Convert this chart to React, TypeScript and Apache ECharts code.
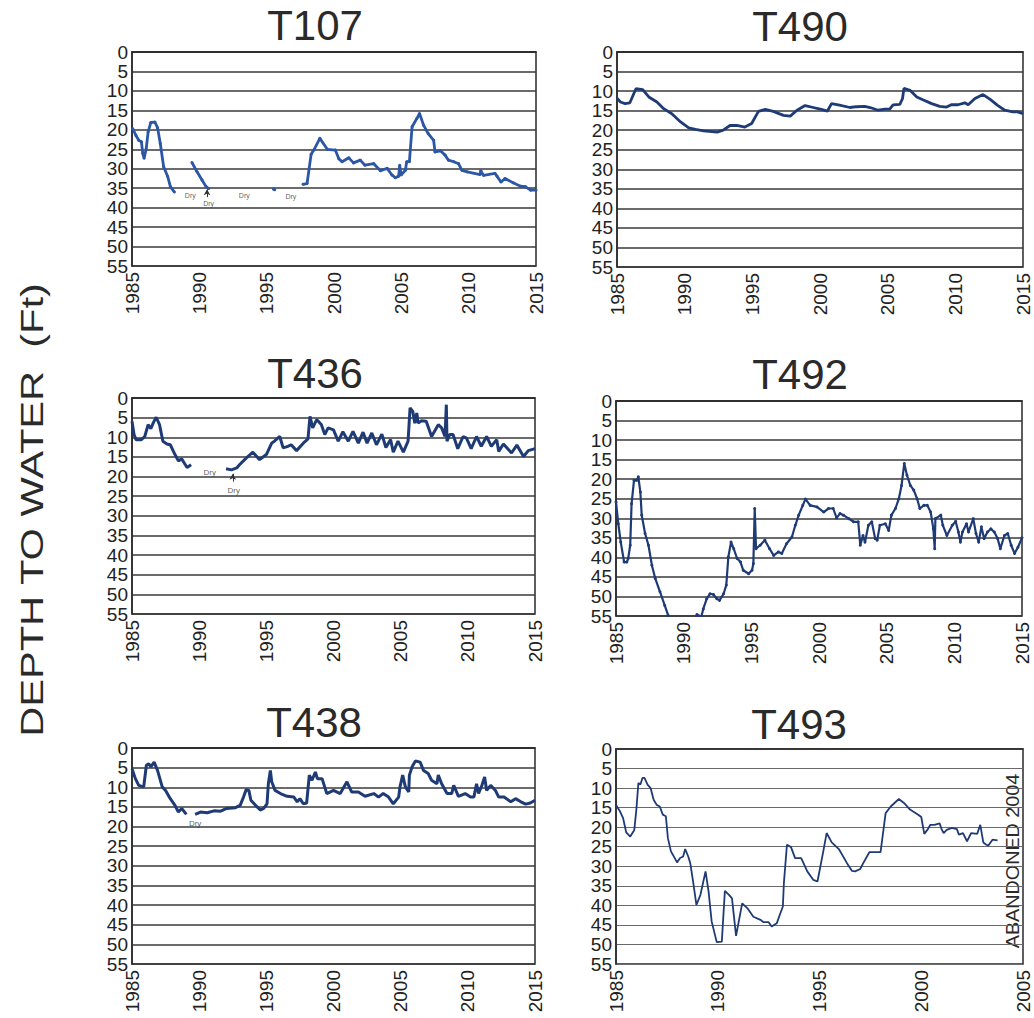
import React, { useEffect, useRef } from "react";
import * as echarts from "echarts";

const FONT = "'Liberation Sans', Arial, Helvetica, sans-serif";

const WELL_NAMES = ["T107", "T490", "T436", "T492", "T438", "T493"];
const Y_MIN = 0;
const Y_MAX = 55;
const Y_STEP = 5;
const Y_TICKS = ["0", "5", "10", "15", "20", "25", "30", "35", "40", "45", "50", "55"];
const X_MIN = 1985;
const X_MAX_MAIN = 2015;
const X_MAX_T493 = 2005;
const X_STEP = 5;
const AXIS_TITLE = "DEPTH TO WATER  (Ft)";
const ABANDONED_NOTE = "ABANDONED 2004";

// ---- T107 (segments separated by dry periods)
const T107_A = [[1985.05, 19.7], [1985.3, 21.5], [1985.5, 22.7], [1985.7, 23.1], [1985.8, 26.1], [1985.9, 27.3], [1986.05, 25], [1986.2, 20.5], [1986.4, 18.1], [1986.7, 18.0], [1986.9, 19.5], [1987.1, 23.5], [1987.35, 29.5], [1987.65, 32], [1987.85, 34.6], [1988.15, 36]];
const T107_B = [[1989.45, 28.4], [1989.83, 30.8], [1990.2, 32.9], [1990.5, 34.6], [1990.7, 35.1]];
const T107_C = [[1995.5, 35.2], [1995.6, 35.4]];
const T107_D = [[1997.7, 34.0], [1998.0, 33.8], [1998.3, 26.3], [1998.5, 25.2], [1998.95, 22.2], [1999.5, 25], [2000.1, 25.2], [2000.35, 27.4], [2000.6, 28.2], [2001.1, 27.2], [2001.45, 28.5], [2001.95, 27.8], [2002.3, 29.1], [2002.95, 28.7], [2003.45, 30.5], [2003.95, 29.9], [2004.3, 31.6], [2004.55, 32.3], [2004.8, 31.9], [2004.88, 29.1], [2004.98, 31.6], [2005.3, 30.4], [2005.4, 28.2], [2005.6, 28.2], [2005.8, 19.2], [2006.15, 17.1], [2006.35, 15.8], [2006.65, 18.8], [2007.0, 21], [2007.4, 22.7], [2007.5, 25.7], [2007.9, 25.4], [2008.25, 26.5], [2008.5, 27.8], [2008.9, 28.2], [2009.25, 28.7], [2009.5, 30.4], [2009.9, 30.8], [2010.85, 31.5], [2010.9, 30.5], [2011.1, 31.7], [2011.95, 31.2], [2012.1, 31.9], [2012.4, 33.4], [2012.7, 32.5], [2013.3, 33.6], [2013.85, 34.5], [2014.2, 34.6], [2014.6, 35.5], [2015, 35.5]];
const T107_DRY = [[1989.33, 37.0], [1990.69, 38.9], [1993.34, 36.8], [1996.8, 37.2]];
const T107_ARROW = [[1990.57, 37.3], [1990.57, 35.3]];

// ---- T490
const T490 = [[1985, 11.8], [1985.25, 12.8], [1985.6, 13.2], [1985.95, 13.0], [1986.4, 9.4], [1986.9, 9.6], [1987.35, 11.5], [1987.95, 12.8], [1988.45, 14.5], [1989.05, 15.8], [1989.7, 17.9], [1990.3, 19.4], [1990.8, 19.8], [1991.4, 20.2], [1992.4, 20.5], [1992.85, 20.0], [1993.35, 18.8], [1993.85, 18.8], [1994.45, 19.2], [1994.95, 18.3], [1995.45, 15.2], [1995.95, 14.7], [1996.55, 15.2], [1997.3, 16.2], [1997.8, 16.4], [1998.3, 14.9], [1998.9, 13.7], [1999.5, 14.2], [2000.1, 14.7], [2000.55, 15.1], [2000.85, 13.2], [2001.45, 13.6], [2002.2, 14.2], [2002.7, 14.0], [2003.3, 13.9], [2003.7, 14.2], [2004.3, 14.9], [2004.8, 14.6], [2005.15, 14.6], [2005.4, 13.5], [2005.9, 13.4], [2006.1, 11.9], [2006.2, 9.3], [2006.65, 9.8], [2007.15, 11.5], [2007.6, 12.2], [2008.25, 13.2], [2008.85, 13.9], [2009.35, 14.1], [2009.7, 13.5], [2010.2, 13.5], [2010.7, 13.0], [2010.95, 13.5], [2011.45, 11.9], [2012.05, 10.9], [2012.6, 12.2], [2013.1, 13.6], [2013.65, 14.9], [2014.25, 15.3], [2014.6, 15.3], [2015, 15.8]];

// ---- T436
const T436_A = [[1985, 5.9], [1985.15, 9.3], [1985.3, 10.6], [1985.7, 10.6], [1985.95, 9.8], [1986.2, 6.8], [1986.4, 7.8], [1986.6, 6.2], [1986.8, 4.9], [1987.05, 6.8], [1987.3, 11.0], [1987.6, 11.7], [1987.85, 11.9], [1988.2, 14.4], [1988.45, 16.0], [1988.7, 15.5], [1988.9, 16.6], [1989.1, 17.7], [1989.4, 17.0]];
const T436_B = [[1992.0, 18.0], [1992.4, 18.3], [1992.8, 17.8], [1993.0, 17.0], [1993.5, 15.3], [1994.0, 13.8], [1994.5, 15.7], [1995.0, 14.4], [1995.4, 11.5], [1995.6, 11.0], [1996.0, 9.8], [1996.25, 12.7], [1996.6, 12.3], [1996.85, 11.9], [1997.25, 13.4], [1997.75, 11.5], [1998.1, 10.4], [1998.25, 4.7], [1998.45, 7.6], [1998.75, 5.5], [1999.1, 6.8], [1999.35, 9.3], [1999.6, 7.6], [2000.0, 8.1], [2000.35, 11.0], [2000.7, 8.6], [2001.1, 11.0], [2001.45, 8.5], [2001.85, 11.5], [2002.2, 8.7], [2002.5, 11.5], [2002.85, 8.9], [2003.2, 11.9], [2003.6, 9.2], [2003.9, 12.6], [2004.25, 10.6], [2004.45, 13.8], [2004.8, 11.0], [2005.2, 13.8], [2005.55, 11.0], [2005.7, 2.5], [2005.9, 3.4], [2006.05, 6.4], [2006.2, 3.8], [2006.3, 6.4], [2006.55, 5.8], [2006.9, 5.9], [2007.3, 9.8], [2007.8, 6.8], [2008.05, 7.6], [2008.3, 9.8], [2008.4, 1.7], [2008.45, 11.0], [2008.65, 9.3], [2008.9, 9.3], [2009.25, 12.9], [2009.65, 9.8], [2009.9, 10.2], [2010.25, 12.9], [2010.65, 9.8], [2011.0, 12.3], [2011.4, 9.8], [2011.75, 12.3], [2012.15, 10.6], [2012.3, 13.6], [2012.65, 11.7], [2013.25, 14.0], [2013.65, 12.0], [2014.15, 14.9], [2014.5, 13.4], [2015.0, 12.9]];
const T436_DRY = [[1990.79, 18.9], [1992.57, 23.5]];
const T436_ARROW = [[1992.5, 21.3], [1992.5, 19.3]];

// ---- T492 (values deeper than 55 ft run below the chart frame)
const T492 = [[1985, 25.8], [1985.17, 31.4], [1985.35, 36.1], [1985.6, 41.2], [1985.8, 41.2], [1985.9, 40.3], [1986.05, 36.9], [1986.15, 26.3], [1986.33, 20.3], [1986.53, 20.3], [1986.65, 19.4], [1986.8, 23.3], [1986.9, 29.2], [1987.15, 33.9], [1987.4, 36.9], [1987.65, 42.0], [1987.9, 45.4], [1988.25, 48.8], [1988.6, 52.3], [1988.85, 54.8], [1989.3, 58], [1990.1, 60], [1990.8, 57], [1990.98, 54.6], [1991.3, 55.2], [1991.45, 53.2], [1991.7, 50.6], [1991.95, 49.3], [1992.2, 49.5], [1992.45, 50.6], [1992.65, 51.0], [1992.95, 49.3], [1993.15, 47.1], [1993.3, 39.9], [1993.5, 36.1], [1993.7, 37.8], [1993.95, 40.3], [1994.2, 41.2], [1994.4, 43.3], [1994.8, 44.2], [1995.05, 43.3], [1995.15, 41.6], [1995.25, 27.5], [1995.35, 37.8], [1995.65, 36.9], [1996.0, 35.6], [1996.35, 37.8], [1996.65, 39.5], [1997.0, 38.6], [1997.25, 39.0], [1997.6, 36.5], [1998.0, 34.8], [1998.25, 31.8], [1998.5, 29.2], [1998.8, 26.7], [1999.0, 25.1], [1999.35, 26.7], [1999.85, 27.1], [2000.35, 28.4], [2000.7, 27.5], [2001.05, 27.5], [2001.3, 29.9], [2001.55, 28.8], [2001.8, 29.2], [2002.2, 30.1], [2002.55, 30.9], [2002.9, 30.9], [2003.05, 36.9], [2003.25, 34.4], [2003.4, 36.1], [2003.65, 31.8], [2003.9, 30.9], [2004.15, 35.2], [2004.3, 35.6], [2004.5, 31.8], [2004.9, 31.4], [2005.15, 33.1], [2005.35, 29.2], [2005.65, 27.5], [2005.9, 25.0], [2006.1, 21.6], [2006.3, 16.0], [2006.5, 19.0], [2006.75, 21.6], [2007.0, 22.8], [2007.25, 25.0], [2007.45, 27.5], [2007.75, 26.7], [2008.0, 26.7], [2008.25, 28.4], [2008.45, 32.7], [2008.55, 37.8], [2008.6, 30.1], [2009.0, 29.2], [2009.15, 31.8], [2009.45, 34.4], [2009.85, 31.8], [2010.1, 30.8], [2010.3, 33.5], [2010.45, 36.1], [2010.6, 33.5], [2010.9, 31.4], [2011.05, 33.5], [2011.4, 30.1], [2011.6, 33.9], [2011.8, 36.1], [2012.0, 32.2], [2012.2, 35.2], [2012.45, 33.5], [2012.7, 32.7], [2012.95, 33.5], [2013.2, 35.2], [2013.4, 37.8], [2013.7, 34.4], [2013.95, 33.9], [2014.2, 36.9], [2014.45, 39.0], [2014.7, 37.4], [2015.0, 35.0]];

// ---- T438
const T438_A = [[1985, 5.3], [1985.25, 7.8], [1985.5, 9.5], [1985.87, 9.9], [1986.07, 4.4], [1986.25, 4.0], [1986.4, 4.8], [1986.65, 3.6], [1986.9, 5.7], [1987.25, 9.9], [1987.5, 10.8], [1987.85, 12.9], [1988.2, 14.6], [1988.45, 16.3], [1988.7, 15.4], [1989.05, 16.9]];
const T438_B = [[1989.7, 16.9], [1990.1, 16.3], [1990.6, 16.5], [1991.1, 16.0], [1991.6, 16.1], [1992.05, 15.4], [1992.7, 15.2], [1993.05, 14.6], [1993.3, 12.5], [1993.5, 10.6], [1993.7, 10.8], [1993.85, 13.3], [1994.2, 14.6], [1994.55, 15.8], [1994.8, 15.4], [1995.05, 14.2], [1995.15, 9.1], [1995.3, 5.7], [1995.4, 8.6], [1995.65, 10.8], [1996.05, 11.6], [1996.55, 12.3], [1997.05, 12.5], [1997.3, 13.7], [1997.5, 12.9], [1997.75, 14.2], [1998.0, 14.0], [1998.2, 6.9], [1998.4, 8.2], [1998.65, 6.1], [1998.8, 7.8], [1999.15, 7.8], [1999.5, 11.6], [2000.0, 10.8], [2000.5, 11.6], [2001.0, 8.6], [2001.35, 11.2], [2001.85, 11.2], [2002.35, 12.3], [2003.0, 11.6], [2003.35, 12.5], [2003.7, 11.6], [2004.1, 12.5], [2004.45, 14.2], [2004.85, 12.5], [2004.95, 9.9], [2005.15, 6.9], [2005.35, 9.9], [2005.6, 11.2], [2005.65, 6.9], [2005.85, 4.8], [2006.1, 3.3], [2006.45, 3.6], [2006.7, 5.7], [2007.05, 6.5], [2007.3, 8.2], [2007.7, 9.1], [2007.8, 6.9], [2008.05, 9.1], [2008.45, 11.6], [2008.8, 11.6], [2008.95, 9.5], [2009.3, 12.3], [2009.8, 11.6], [2010.2, 12.5], [2010.45, 12.5], [2010.65, 9.1], [2010.8, 11.6], [2011.05, 9.5], [2011.25, 7.4], [2011.4, 10.8], [2011.7, 9.5], [2012.05, 10.8], [2012.3, 12.5], [2012.7, 12.5], [2013.2, 13.7], [2013.55, 12.9], [2013.95, 13.7], [2014.3, 14.3], [2014.65, 14.0], [2015.0, 13.3]];
const T438_DRY = [[1989.7, 19.2]];

// ---- T493
const T493 = [[1985, 14.3], [1985.2, 16.0], [1985.35, 17.7], [1985.5, 21.3], [1985.7, 22.4], [1985.9, 20.7], [1986.0, 15.5], [1986.1, 8.7], [1986.2, 9.1], [1986.3, 7.4], [1986.4, 7.4], [1986.55, 9.1], [1986.7, 10.0], [1986.85, 13.0], [1987.0, 14.3], [1987.15, 14.7], [1987.3, 16.8], [1987.45, 17.2], [1987.55, 22.8], [1987.7, 26.2], [1987.8, 27.1], [1988.0, 29.0], [1988.15, 27.9], [1988.3, 27.5], [1988.4, 25.6], [1988.55, 27.5], [1988.65, 29.2], [1988.8, 34.3], [1988.95, 39.9], [1989.15, 37.3], [1989.4, 31.3], [1989.55, 36.5], [1989.7, 44.1], [1989.95, 49.4], [1990.2, 49.3], [1990.35, 36.3], [1990.55, 37.3], [1990.7, 38.2], [1990.9, 47.8], [1991.2, 39.5], [1991.45, 40.7], [1991.75, 42.9], [1992.1, 43.7], [1992.25, 44.3], [1992.5, 44.3], [1992.65, 45.4], [1992.9, 44.6], [1993.05, 42.4], [1993.2, 40.3], [1993.25, 34.3], [1993.4, 24.5], [1993.6, 25.1], [1993.8, 27.9], [1994.1, 27.9], [1994.4, 31.3], [1994.7, 33.5], [1994.9, 33.9], [1995.2, 25.8], [1995.35, 21.5], [1995.6, 23.9], [1995.95, 25.6], [1996.35, 29.2], [1996.6, 31.2], [1996.75, 31.3], [1997.0, 30.7], [1997.15, 29.2], [1997.45, 26.4], [1997.75, 26.4], [1998.0, 26.4], [1998.25, 16.4], [1998.5, 14.7], [1998.9, 12.8], [1999.15, 13.8], [1999.45, 15.5], [1999.6, 16.0], [1999.85, 16.8], [2000.0, 17.4], [2000.15, 21.7], [2000.3, 20.7], [2000.45, 19.4], [2000.65, 19.4], [2000.9, 19.0], [2001.0, 20.5], [2001.1, 21.5], [2001.25, 20.7], [2001.5, 20.2], [2001.75, 20.5], [2001.85, 21.9], [2002.05, 21.5], [2002.25, 23.6], [2002.45, 21.5], [2002.75, 21.7], [2002.9, 19.4], [2003.05, 23.9], [2003.2, 24.5], [2003.3, 24.7], [2003.5, 23.2], [2003.75, 23.4]];

const BLUE = "#2c56a6";
const NAVY = "#1f3b76";

type Panel = {
  name: string;
  grid: { left: number; top: number; width: number; height: number };
  xMax: number;
  title: { x: number; y: number };
  segments: number[][][];
  color: string;
  width: number;
  symbols: boolean;
  dry?: number[][];
  arrow?: number[][];
  dryFont?: number;
  gridColor: string;
  gridWidth: number;
};

const PANELS: Panel[] = [
  { name: WELL_NAMES[0], grid: { left: 132, top: 52, width: 404, height: 214 }, xMax: X_MAX_MAIN, title: { x: 315, y: 25 }, segments: [T107_A, T107_B, T107_C, T107_D], color: BLUE, width: 2.8, symbols: true, dry: T107_DRY, arrow: T107_ARROW, dryFont: 7, gridColor: "#3a3a3a", gridWidth: 1.5 },
  { name: WELL_NAMES[1], grid: { left: 617, top: 52, width: 406, height: 215 }, xMax: X_MAX_MAIN, title: { x: 800, y: 26 }, segments: [T490], color: NAVY, width: 2.8, symbols: false, gridColor: "#3a3a3a", gridWidth: 1.5 },
  { name: WELL_NAMES[2], grid: { left: 132, top: 398, width: 403, height: 216 }, xMax: X_MAX_MAIN, title: { x: 315, y: 373 }, segments: [T436_A, T436_B], color: NAVY, width: 3, symbols: false, dry: T436_DRY, arrow: T436_ARROW, dryFont: 8, gridColor: "#3a3a3a", gridWidth: 1.5 },
  { name: WELL_NAMES[3], grid: { left: 616, top: 401, width: 406, height: 215 }, xMax: X_MAX_MAIN, title: { x: 800, y: 374 }, segments: [T492], color: NAVY, width: 2.2, symbols: true, gridColor: "#3a3a3a", gridWidth: 1.5 },
  { name: WELL_NAMES[4], grid: { left: 132, top: 748, width: 403, height: 216 }, xMax: X_MAX_MAIN, title: { x: 314, y: 722 }, segments: [T438_A, T438_B], color: NAVY, width: 3, symbols: false, dry: T438_DRY, dryFont: 8, gridColor: "#3a3a3a", gridWidth: 1.5 },
  { name: WELL_NAMES[5], grid: { left: 616, top: 749, width: 407, height: 215 }, xMax: X_MAX_T493, title: { x: 799, y: 724 }, segments: [T493], color: NAVY, width: 1.8, symbols: false, gridColor: "#6a6a6a", gridWidth: 1.1 },
];

const TICK_FONT = 19;

function buildOption() {
  const grids: any[] = [];
  const xAxes: any[] = [];
  const yAxes: any[] = [];
  const series: any[] = [];
  const graphics: any[] = [];

  PANELS.forEach((p, i) => {
    grids.push({
      ...p.grid,
      show: true,
      borderColor: "#2a2a2a",
      borderWidth: 1.5,
      backgroundColor: "#ffffff",
      containLabel: false,
    });
    xAxes.push({
      type: "value",
      gridIndex: i,
      min: X_MIN,
      max: p.xMax,
      interval: X_STEP,
      axisLine: { show: true, lineStyle: { color: "#2a2a2a", width: 1.5 } },
      axisTick: { show: false },
      splitLine: { show: false },
      axisLabel: {
        rotate: 90,
        margin: 6,
        fontSize: TICK_FONT,
        fontFamily: FONT,
        color: "#222",
        showMinLabel: true,
        showMaxLabel: true,
        formatter: (v: number) => String(Math.round(v)),
      },
    });
    // value axis: scale + horizontal grid lines
    yAxes.push({
      type: "value",
      gridIndex: i,
      inverse: true,
      min: Y_MIN,
      max: Y_MAX,
      interval: Y_STEP,
      axisLine: { show: true, lineStyle: { color: "#2a2a2a", width: 1.5 } },
      axisTick: { show: false },
      splitLine: { show: true, lineStyle: { color: p.gridColor, width: p.gridWidth } },
      axisLabel: { show: false },
    });
    // label axis: shows every depth tick label
    yAxes.push({
      type: "category",
      gridIndex: i,
      inverse: true,
      boundaryGap: false,
      data: Y_TICKS,
      position: "left",
      axisLine: { show: false },
      axisTick: { show: false },
      splitLine: { show: false },
      axisLabel: {
        interval: 0,
        margin: 4,
        fontSize: TICK_FONT,
        fontFamily: FONT,
        color: "#222",
      },
    });
    const yIdx = i * 2;
    p.segments.forEach((seg) => {
      series.push({
        type: "line",
        xAxisIndex: i,
        yAxisIndex: yIdx,
        data: seg,
        clip: true,
        showSymbol: p.symbols,
        symbol: "circle",
        symbolSize: p.symbols ? 3 : 0,
        itemStyle: { color: p.color },
        lineStyle: { color: p.color, width: p.width },
        silent: true,
        z: 3,
      });
    });
    if (p.dry) {
      const s: any = {
        type: "scatter",
        xAxisIndex: i,
        yAxisIndex: yIdx,
        data: p.dry,
        symbolSize: 1,
        itemStyle: { color: "rgba(0,0,0,0)" },
        label: {
          show: true,
          position: "inside",
          formatter: "Dry",
          fontSize: p.dryFont,
          fontFamily: FONT,
          color: "#333",
        },
        silent: true,
        z: 4,
      };
      if (p.arrow) {
        s.markLine = {
          silent: true,
          animation: false,
          symbol: ["none", "arrow"],
          symbolSize: [5, 6],
          label: { show: false },
          lineStyle: { color: "#333", width: 1, type: "solid" },
          data: [[{ coord: p.arrow[0] }, { coord: p.arrow[1] }]],
        };
      }
      series.push(s);
    }
    graphics.push({
      type: "text",
      x: p.title.x,
      y: p.title.y,
      style: {
        text: p.name,
        fontSize: 42,
        fontFamily: FONT,
        fill: "#2a2a2a",
        textAlign: "center",
        textVerticalAlign: "middle",
      },
    });
  });

  graphics.push({
    type: "text",
    x: 32,
    y: 510,
    rotation: Math.PI / 2,
    scaleX: 1.3,
    style: {
      text: AXIS_TITLE,
      fontSize: 32,
      fontFamily: FONT,
      fill: "#2a2a2a",
      textAlign: "center",
      textVerticalAlign: "middle",
    },
  });
  graphics.push({
    type: "text",
    x: 1012,
    y: 861,
    rotation: Math.PI / 2,
    scaleX: 1.04,
    style: {
      text: ABANDONED_NOTE,
      fontSize: 19,
      fontFamily: FONT,
      fill: "#2a2a2a",
      textAlign: "center",
      textVerticalAlign: "middle",
    },
  });

  return {
    animation: false,
    backgroundColor: "#ffffff",
    grid: grids,
    xAxis: xAxes,
    yAxis: yAxes,
    series,
    graphic: graphics,
  };
}

export default function App() {
  const ref = useRef<HTMLDivElement>(null);
  useEffect(() => {
    if (!ref.current) return;
    const chart = echarts.init(ref.current, undefined, { renderer: "svg" });
    chart.setOption(buildOption());
    return () => chart.dispose();
  }, []);
  return (
    <div
      ref={ref}
      style={{ position: "absolute", left: 0, top: 0, width: 1034, height: 1018, background: "#fff" }}
    />
  );
}
